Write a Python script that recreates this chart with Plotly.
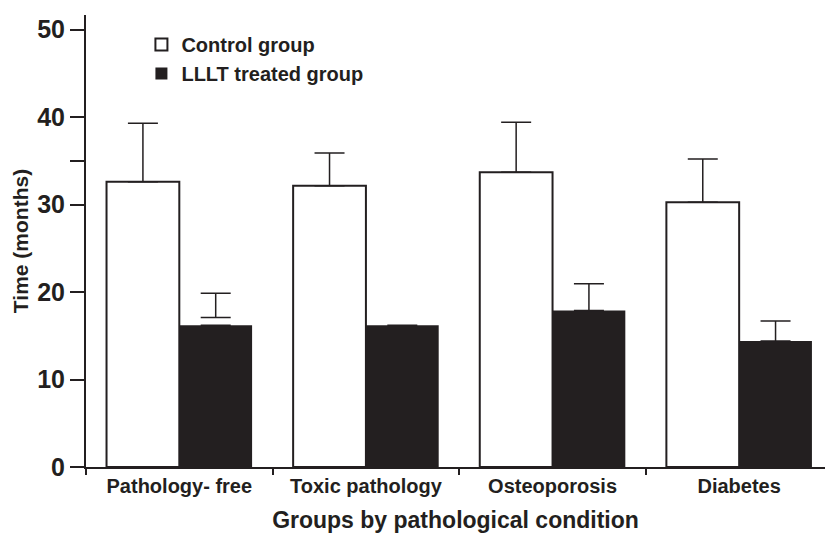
import plotly.graph_objects as go

categories = ["Pathology- free", "Toxic pathology", "Osteoporosis", "Diabetes"]
control_mean = [32.6, 32.15, 33.7, 30.25]
control_sd = [6.7, 3.75, 5.7, 4.95]
lllt_mean = [16.2, 16.2, 17.9, 14.4]
lllt_sd = [None, None, 3.05, 2.3]
# floating error bar drawn above the first LLLT bar (lower cap / upper cap)
lllt_extra_low = [17.1, None, None, None]
lllt_extra_high = [19.85, None, None, None]

y_ticks = [0, 10, 20, 30, 35, 40, 50]
y_ticktext = ["0", "10", "20", "30", "", "40", "50"]

INK = "#231f20"
FONT = "Liberation Sans, Arial, sans-serif"

fig = go.Figure()
fig.add_trace(go.Bar(
    name="Control group", x=categories, y=control_mean, offsetgroup="c",
    marker=dict(color="white", line=dict(color=INK, width=2)),
    error_y=dict(type="data", array=control_sd, arrayminus=[0] * 4, symmetric=False,
                 color=INK, thickness=1.5, width=15),
))
fig.add_trace(go.Bar(
    name="LLLT treated group", x=categories, y=lllt_mean, offsetgroup="l",
    marker=dict(color=INK, line=dict(color=INK, width=0)),
    error_y=dict(type="data", array=lllt_sd, arrayminus=[0 if v is not None else None for v in lllt_sd],
                 symmetric=False, color=INK, thickness=1.5, width=15),
))
mid = [None if lo is None else (lo + hi) / 2 for lo, hi in zip(lllt_extra_low, lllt_extra_high)]
half = [None if lo is None else (hi - lo) / 2 for lo, hi in zip(lllt_extra_low, lllt_extra_high)]
fig.add_trace(go.Bar(
    x=categories, y=mid, offsetgroup="l", showlegend=False, hoverinfo="skip",
    marker=dict(color="rgba(0,0,0,0)", line=dict(width=0)),
    error_y=dict(type="data", array=half, symmetric=True, color=INK, thickness=1.5, width=15),
))

fig.update_layout(
    width=825, height=534,
    margin=dict(l=86, r=0, t=15, b=67),
    plot_bgcolor="white", paper_bgcolor="white",
    barmode="group", bargap=0.22, bargroupgap=0,
    font=dict(family=FONT, color=INK),
    showlegend=True,
    legend=dict(x=0.075, y=0.978, xanchor="left", yanchor="top",
                font=dict(family=FONT, size=20, color=INK, weight="bold"),
                bgcolor="rgba(0,0,0,0)", tracegroupgap=0),
)
fig.update_xaxes(
    range=[-0.5, 3.46], showline=True, linecolor=INK, linewidth=2,
    ticks="outside", tickson="boundaries", ticklen=6, tickwidth=1.5, tickcolor=INK,
    tickfont=dict(family=FONT, size=20, color=INK, weight="bold"),
    title=dict(text="Groups by pathological condition", standoff=16,
               font=dict(family=FONT, size=23, color=INK, weight="bold")),
    showgrid=False, zeroline=False,
)
fig.update_yaxes(
    range=[0, 51.66], showline=True, linecolor=INK, linewidth=2,
    tickvals=y_ticks, ticktext=y_ticktext,
    ticks="outside", ticklen=14, tickwidth=1.5, tickcolor=INK,
    tickfont=dict(family=FONT, size=25, color=INK, weight="bold"),
    title=dict(text="Time (months)", standoff=3,
               font=dict(family=FONT, size=21, color=INK, weight="bold")),
    showgrid=False, zeroline=False,
)
fig.write_html("out.html")
